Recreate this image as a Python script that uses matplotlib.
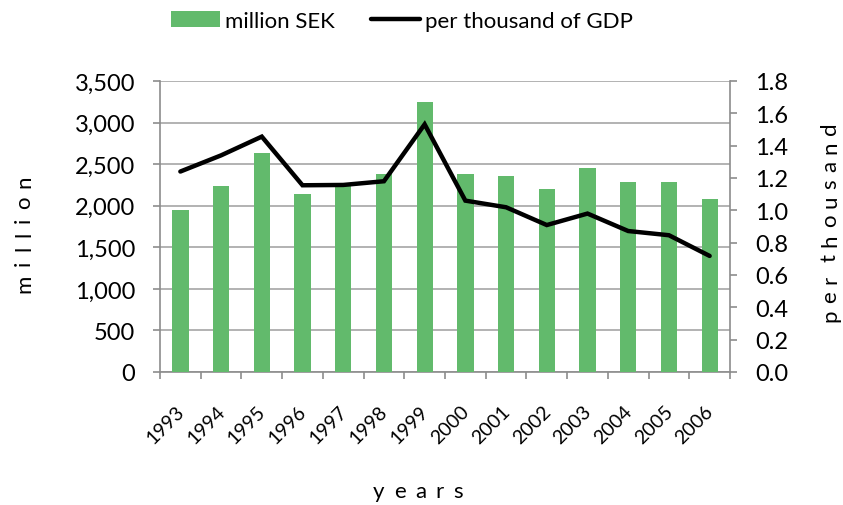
import numpy as np
import matplotlib
matplotlib.use('Agg')
from matplotlib import pyplot as plt
from matplotlib.ticker import FuncFormatter, MultipleLocator, FixedLocator
from matplotlib.transforms import IdentityTransform, ScaledTranslation, blended_transform_factory

# dati
years = ['1993', '1994', '1995', '1996', '1997', '1998', '1999',
         '2000', '2001', '2002', '2003', '2004', '2005', '2006']
million_sek = [1948, 2242, 2634, 2137, 2250, 2378, 3247,
               2386, 2362, 2197, 2454, 2282, 2290, 2077]
per_thousand = [1.240, 1.340, 1.456, 1.155, 1.157, 1.180, 1.532,
                1.060, 1.019, 0.909, 0.980, 0.872, 0.846, 0.718]

plt.rcParams['font.family'] = ['Lato', 'DejaVu Sans']
grey = '#8c8c8c'
green = '#62ba6c'
W, H = 843, 506

fig = plt.figure(figsize=(W/100, H/100), dpi=100)
ax1 = fig.add_axes([160/W, 1-373/H, 570/W, 291/H])
ax2 = ax1.twinx()

x = np.arange(len(years))
ax1.bar(x, million_sek, width=0.4, color=green, zorder=3, label='million SEK')
ax2.plot(x, per_thousand, color='black', lw=3.2, solid_capstyle='round',
         solid_joinstyle='miter', label='per thousand of GDP', zorder=4)

ax1.set_xlim(-0.5, len(years)-0.5)
ax1.set_ylim(0, 3500)
ax2.set_ylim(0, 1.8)
ax1.yaxis.set_major_locator(MultipleLocator(500))
ax2.yaxis.set_major_locator(MultipleLocator(0.2))
ax1.yaxis.set_major_formatter(FuncFormatter(lambda v, p: '{:,.0f}'.format(v)))
ax2.yaxis.set_major_formatter(FuncFormatter(lambda v, p: '%.1f' % v))
ax1.grid(axis='y', color='#a6a6a6', lw=1.2, zorder=0)
ax1.set_axisbelow(True)

# etichette anni: testo ruotato sotto ogni categoria
ax1.set_xticks(x)
ax1.set_xticklabels([])
tr = blended_transform_factory(ax1.transData, ax1.transAxes) + \
    ScaledTranslation(-0.05, -0.30, fig.dpi_scale_trans)
for xi, yr in zip(x, years):
    ax1.text(xi, 0, yr, transform=tr, rotation=45, rotation_mode='anchor',
             ha='right', va='top', fontsize=14, clip_on=False)
ax1.xaxis.set_minor_locator(FixedLocator(np.arange(-0.5, len(years), 1)))
ax1.tick_params(axis='x', which='major', length=0)
ax1.tick_params(axis='x', which='minor', length=5, color=grey, width=1.2)
ax1.tick_params(axis='y', length=5, color=grey, width=1.2, labelsize=17, pad=13)
ax2.tick_params(axis='y', length=5, color=grey, width=1.2, labelsize=17, pad=13)

for a in (ax1, ax2):
    for s in a.spines.values():
        s.set_visible(False)
for a, side in ((ax1, 'left'), (ax1, 'bottom'), (ax2, 'right')):
    a.spines[side].set_visible(True)
    a.spines[side].set_color(grey)
    a.spines[side].set_linewidth(1.2)


# testo spaziato lettera per lettera (coordinate in pixel)
def spaced(s, c, base, length, vertical=False, size=16):
    r = fig.canvas.get_renderer()
    ws = []
    for ch in s:
        if ch == ' ':
            ws.append(0.)
            continue
        t = fig.text(0, 0, ch, fontsize=size)
        ws.append(t.get_window_extent(r).width)
        t.remove()
    gap = (length - sum(ws)) / (len(s) - 1)
    pos = c - length/2
    for ch, w in zip(s, ws):
        if ch != ' ':
            if vertical:
                fig.text(base, pos, ch, rotation=90, rotation_mode='anchor',
                         ha='left', va='baseline', fontsize=size,
                         transform=IdentityTransform())
            else:
                fig.text(pos, base, ch, ha='left', va='baseline', fontsize=size,
                         transform=IdentityTransform())
            pos += w + gap
        else:
            pos += gap


spaced('million', H-234, 30, 118, vertical=True)
spaced('per thousand', H-222, 836, 200, vertical=True)
spaced('years', 418, H-498, 90)

h1, l1 = ax1.get_legend_handles_labels()
h2, l2 = ax2.get_legend_handles_labels()
fig.legend(h1+h2, l1+l2, loc='center', bbox_to_anchor=(402/W, 1-22/H), ncol=2,
           frameon=False, fontsize=16, handlelength=2.2, handletextpad=0.25,
           columnspacing=1.6, borderpad=0, borderaxespad=0)

fig.savefig('out.png', dpi=100)
